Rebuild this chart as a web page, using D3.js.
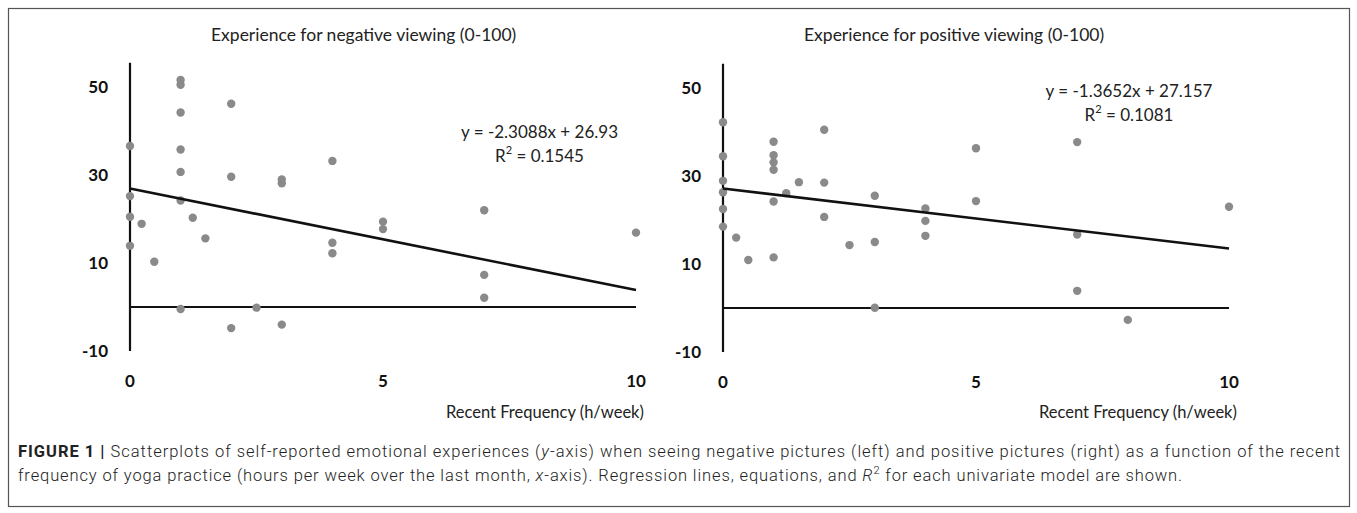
<!DOCTYPE html>
<html>
<head>
<meta charset="utf-8">
<script src="https://cdn.jsdelivr.net/npm/d3@7"></script>
<style>
  html, body { margin: 0; padding: 0; background: #fff; }
  svg { display: block; }
</style>
</head>
<body>
<svg id="chart" width="1357" height="513"></svg>
<script>
// ---------- DATA ----------
const xTicks = [0, 5, 10];
const yTicks = [-10, 10, 30, 50];

const negTitle = "Experience for negative viewing (0-100)";
const posTitle = "Experience for positive viewing (0-100)";
const xLabel = "Recent Frequency (h/week)";

const negX = [0, 0, 0, 0, 0.23, 0.48, 1, 1, 1, 1, 1, 1, 1, 1.24, 1.49, 2, 2, 2, 2.5, 3, 3, 3, 4, 4, 4, 5, 5, 7, 7, 7, 10];
const negY = [36.6, 25.2, 20.5, 13.9, 18.9, 10.3, 51.6, 50.5, 44.2, 35.8, 30.7, 24.2, -0.45, 20.3, 15.6, 46.2, 29.6, -4.8, -0.15, 29.0, 28.1, -4.0, 33.2, 14.6, 12.2, 19.4, 17.7, 22.0, 7.3, 2.1, 16.9];

const posX = [0, 0, 0, 0, 0, 0, 0.26, 0.5, 1, 1, 1, 1, 1, 1, 1.25, 1.5, 2, 2, 2, 2.5, 3, 3, 3, 4, 4, 4, 5, 5, 7, 7, 7, 8, 10];
const posY = [42.2, 34.5, 28.9, 26.3, 22.5, 18.5, 16.0, 10.9, 37.8, 34.7, 33.1, 31.4, 24.2, 11.5, 26.1, 28.6, 40.5, 28.5, 20.7, 14.3, 25.5, 15.0, 0.07, 22.6, 19.8, 16.4, 36.3, 24.3, 37.7, 16.7, 3.9, -2.7, 23.0];

const negFit = { slope: -2.3088, intercept: 26.93, eq: "y = -2.3088x + 26.93", r2: "0.1545" };
const posFit = { slope: -1.3652, intercept: 27.157, eq: "y = -1.3652x + 27.157", r2: "0.1081" };

const captionBold = "FIGURE 1 |";
const captionLine1 = " Scatterplots of self-reported emotional experiences (";
const captionLine1b = "y";
const captionLine1c = "-axis) when seeing negative pictures (left) and positive pictures (right) as a function of the recent";
const captionLine2a = "frequency of yoga practice (hours per week over the last month, ";
const captionLine2b = "x";
const captionLine2c = "-axis). Regression lines, equations, and ";
const captionLine2d = "R";
const captionLine2e = " for each univariate model are shown.";

// ---------- DRAW ----------
const svg = d3.select("#chart");
const FONT = "Lato, 'Open Sans', sans-serif";

// frame
svg.append("rect")
  .attr("x", 8.5).attr("y", 8.5)
  .attr("width", 1341).attr("height", 498)
  .attr("fill", "none").attr("stroke", "#555").attr("stroke-width", 1.2);

function panel(opts) {
  const x = d3.scaleLinear().domain([0, 10]).range([opts.x0, opts.x0 + 506]);
  const y = d3.scaleLinear().domain([-10, 50]).range([opts.zero + 44, opts.zero - 220]);
  const g = svg.append("g");

  // title
  g.append("text")
    .attr("x", opts.titleX).attr("y", 41)
    .attr("font-family", FONT).attr("font-size", 17.5)
    .attr("fill", "#222")
    .text(opts.title);

  // y axis line (no ticks)
  g.append("line")
    .attr("x1", x(0)).attr("x2", x(0))
    .attr("y1", y(-10)).attr("y2", y(55.5))
    .attr("stroke", "#111").attr("stroke-width", 2.2);

  // zero line
  g.append("line")
    .attr("x1", x(0)).attr("x2", x(10))
    .attr("y1", y(0)).attr("y2", y(0))
    .attr("stroke", "#111").attr("stroke-width", 2.2);

  // y tick labels
  g.selectAll("text.ytick").data(yTicks).join("text")
    .attr("class", "ytick")
    .attr("x", x(0) - 22).attr("y", d => y(d) - 1)
    .attr("text-anchor", "end").attr("dominant-baseline", "central")
    .attr("font-family", FONT).attr("font-weight", "bold").attr("font-size", 17)
    .attr("fill", "#111")
    .text(d => d);

  // x tick labels
  g.selectAll("text.xtick").data(xTicks).join("text")
    .attr("class", "xtick")
    .attr("x", d => x(d)).attr("y", opts.zero + 73)
    .attr("text-anchor", "middle").attr("dominant-baseline", "central")
    .attr("font-family", FONT).attr("font-weight", "bold").attr("font-size", 17)
    .attr("fill", "#111")
    .text(d => d);

  // x axis label
  g.append("text")
    .attr("x", opts.xLabelX).attr("y", 418)
    .attr("font-family", FONT).attr("font-size", 16.5)
    .attr("fill", "#222")
    .text(xLabel);

  // points
  const pts = opts.xs.map((v, i) => [v, opts.ys[i]]);
  g.selectAll("circle").data(pts).join("circle")
    .attr("cx", d => x(d[0])).attr("cy", d => y(d[1]))
    .attr("r", 4.2).attr("fill", "#8a8a8a");

  // regression line
  const fit = opts.fit;
  g.append("line")
    .attr("x1", x(0)).attr("y1", y(fit.intercept))
    .attr("x2", x(10)).attr("y2", y(fit.intercept + fit.slope * 10))
    .attr("stroke", "#111").attr("stroke-width", 2.6);

  // equation text
  g.append("text")
    .attr("x", opts.eqX).attr("y", opts.eqY)
    .attr("text-anchor", "middle").attr("dominant-baseline", "central")
    .attr("font-family", FONT).attr("font-size", 17)
    .attr("fill", "#222")
    .text(fit.eq);
  const r2 = g.append("text")
    .attr("x", opts.eqX).attr("y", opts.eqY + 23.5)
    .attr("text-anchor", "middle").attr("dominant-baseline", "central")
    .attr("font-family", FONT).attr("font-size", 17)
    .attr("fill", "#222");
  r2.append("tspan").text("R");
  r2.append("tspan").attr("font-size", 11).attr("dy", -6).text("2");
  r2.append("tspan").attr("dy", 6).text(" = " + fit.r2);
}

panel({ x0: 130, zero: 307, title: negTitle, titleX: 211, xLabelX: 446,
        xs: negX, ys: negY, fit: negFit, eqX: 539.5, eqY: 131.7 });
panel({ x0: 723, zero: 308, title: posTitle, titleX: 804, xLabelX: 1039,
        xs: posX, ys: posY, fit: posFit, eqX: 1129, eqY: 90 });

// caption
const CAP = "Roboto, 'Liberation Sans', sans-serif";
const c1 = svg.append("text")
  .attr("x", 18).attr("y", 457)
  .attr("font-family", CAP).attr("font-size", 16.5).attr("font-weight", 300).attr("fill", "#222");
c1.append("tspan").attr("font-weight", "bold").text(captionBold);
c1.append("tspan").text(captionLine1);
c1.append("tspan").attr("font-style", "italic").text(captionLine1b);
c1.append("tspan").text(captionLine1c);
c1.attr("textLength", 1322).attr("lengthAdjust", "spacing");

const c2 = svg.append("text")
  .attr("x", 18).attr("y", 481)
  .attr("font-family", CAP).attr("font-size", 16.5).attr("font-weight", 300).attr("fill", "#222");
c2.append("tspan").text(captionLine2a);
c2.append("tspan").attr("font-style", "italic").text(captionLine2b);
c2.append("tspan").text(captionLine2c);
c2.append("tspan").attr("font-style", "italic").text(captionLine2d);
c2.append("tspan").attr("font-size", 11).attr("dy", -7).text("2");
c2.append("tspan").attr("dy", 7).text(captionLine2e);
c2.attr("textLength", 1164).attr("lengthAdjust", "spacing");
</script>
</body>
</html>
